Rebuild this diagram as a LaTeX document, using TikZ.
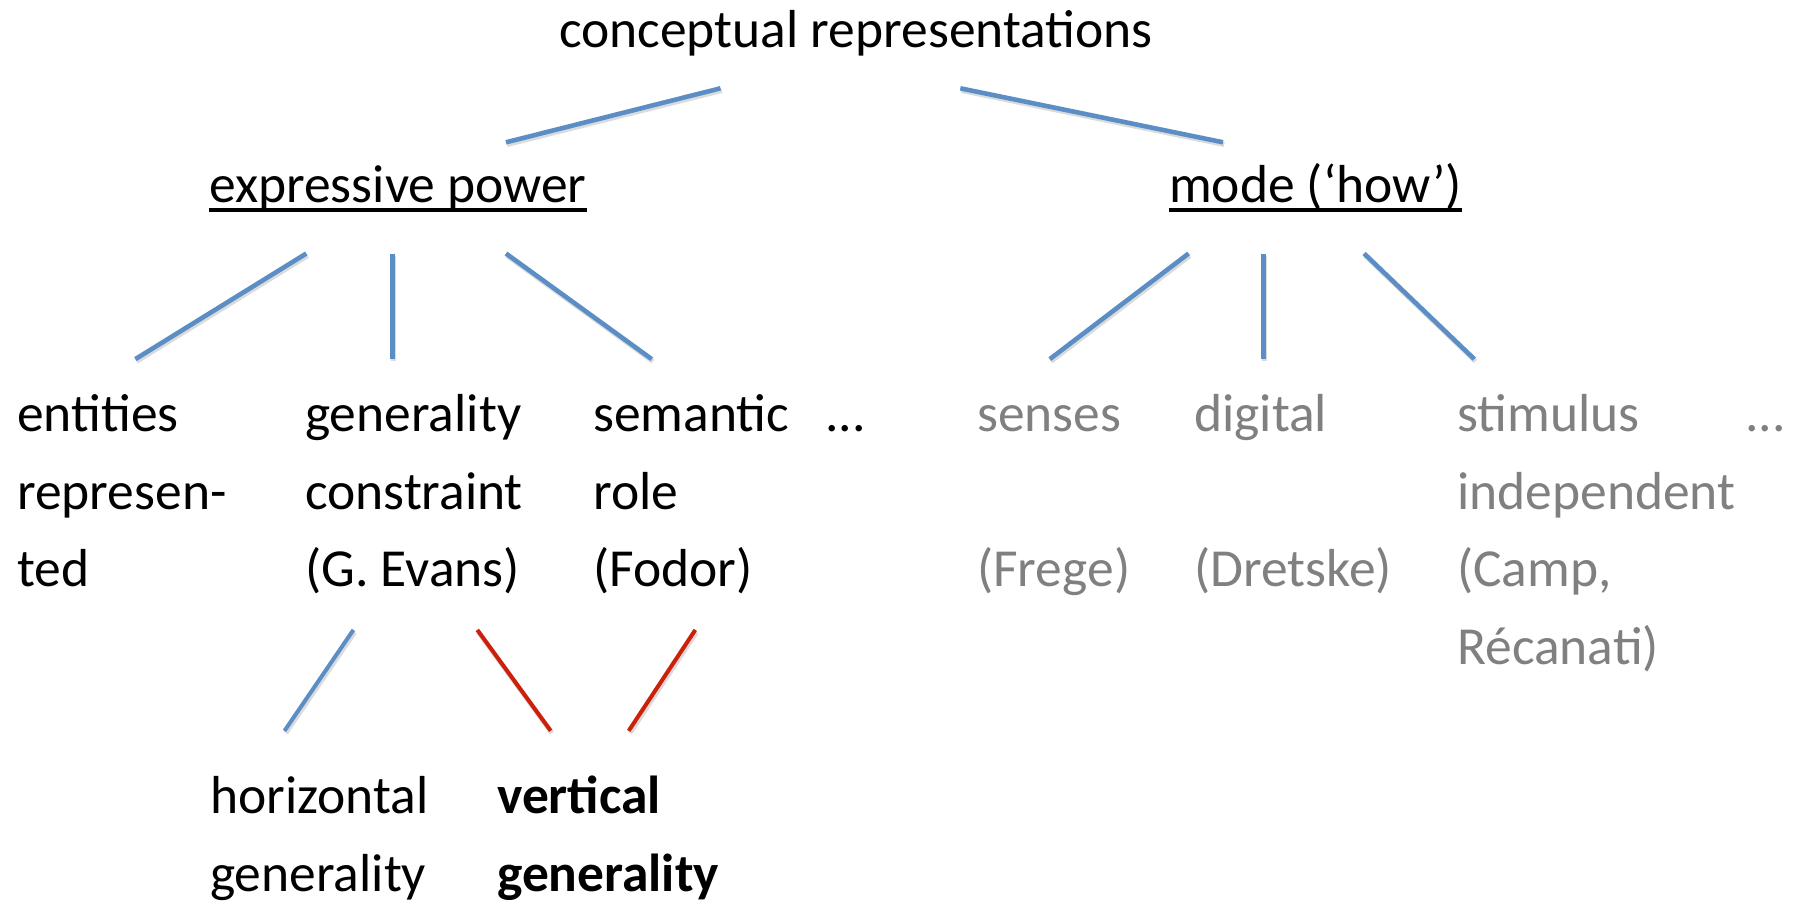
\documentclass[tikz,border=0pt]{standalone}
\usepackage{fontspec}
\setmainfont{Carlito}
\definecolor{lineblue}{RGB}{92,142,198}
\definecolor{linered}{RGB}{204,32,8}
\definecolor{textgray}{RGB}{128,128,128}
\newcommand\lines[1]{\begin{tabular}[t]{@{}l@{}}#1\end{tabular}}
\tikzset{
  lbl/.style={anchor=base west, inner sep=0pt, font=\fontsize{53.5}{77.7}\selectfont},
  greylbl/.style={lbl, text=textgray},
  shade/.style={preaction={draw=black!14, line width=5pt, transform canvas={shift={(1.2pt,-2.2pt)}}}},
  branch/.style={shade, line width=4.6pt, draw=lineblue},
  lowblue/.style={shade, line width=4pt, draw=lineblue},
  lowred/.style={shade, line width=4pt, draw=linered},
  uline/.style={line width=3.2pt, draw=black},
}
\begin{document}
\begin{tikzpicture}[x=1pt,y=-1pt]
\useasboundingbox[fill=white] (0,0) rectangle (1799,900);

% texts
\node[lbl] (root) at (559,47) {conceptual representations};
\node[lbl] (expr) at (209,202) {expressive power};
\node[lbl] (mode) at (1169,202) {mode (‘how’)};
\draw[uline] ([yshift=-8pt]expr.base west) -- ([yshift=-8pt]expr.base east);
\draw[uline] ([yshift=-8pt]mode.base west) -- ([yshift=-8pt]mode.base east);

\node[lbl] (ent) at (17,431.5) {\lines{entities\\represen-\\ted}};
\node[lbl] (gen) at (305,431.5) {\lines{generality\\constraint\\(G. Evans)}};
\node[lbl] (sem) at (593,431.5) {\lines{semantic\\role\\(Fodor)}};
\node[lbl] (dots1) at (825,431.5) {...};
\node[greylbl] (sens) at (977,431.5) {\lines{senses\\ \\(Frege)}};
\node[greylbl] (dig) at (1194,431.5) {\lines{digital\\ \\(Dretske)}};
\node[greylbl] (stim) at (1457,431.5) {\lines{stimulus\\independent\\(Camp,\\Récanati)}};
\node[greylbl] (dots2) at (1745,431.5) {...};

\node[lbl] (hor) at (210,813.5) {\lines{horizontal\\generality}};
\node[lbl] (ver) at (497,813.5) {\lines{\bfseries vertical\\\bfseries generality}};

% connector end points
\coordinate (r1) at (720.5,88.3);  \coordinate (e0) at (506,142.3);
\coordinate (r2) at (960.3,88.3);  \coordinate (m0) at (1223,142.3);
\coordinate (e1) at (306.3,253.5); \coordinate (ent0) at (135.4,359.1);
\coordinate (e2) at (392.4,253.5); \coordinate (gen0) at (392.4,359.1);
\coordinate (e3) at (506,253.5);   \coordinate (sem0) at (651.7,359.1);
\coordinate (m1) at (1188.6,253.5); \coordinate (sens0) at (1049.8,359.1);
\coordinate (m2) at (1263.2,253.5); \coordinate (dig0) at (1263.2,359.1);
\coordinate (m3) at (1364.1,253.5); \coordinate (stim0) at (1474.3,359.1);
\coordinate (g1) at (353.4,629.9); \coordinate (hor0) at (284.5,730.8);
\coordinate (g2) at (477.3,629.9); \coordinate (ver0) at (550.7,730.8);
\coordinate (s1) at (695.3,629.9); \coordinate (ver1) at (628.7,730.8);

% connectors
\draw[branch] (r1) -- (e0);
\draw[branch] (r2) -- (m0);
\draw[branch] (e1) -- (ent0);
\draw[branch] (e2) -- (gen0);
\draw[branch] (e3) -- (sem0);
\draw[branch] (m1) -- (sens0);
\draw[branch] (m2) -- (dig0);
\draw[branch] (m3) -- (stim0);
\draw[lowblue] (g1) -- (hor0);
\draw[lowred] (g2) -- (ver0);
\draw[lowred] (s1) -- (ver1);
\end{tikzpicture}
\end{document}
